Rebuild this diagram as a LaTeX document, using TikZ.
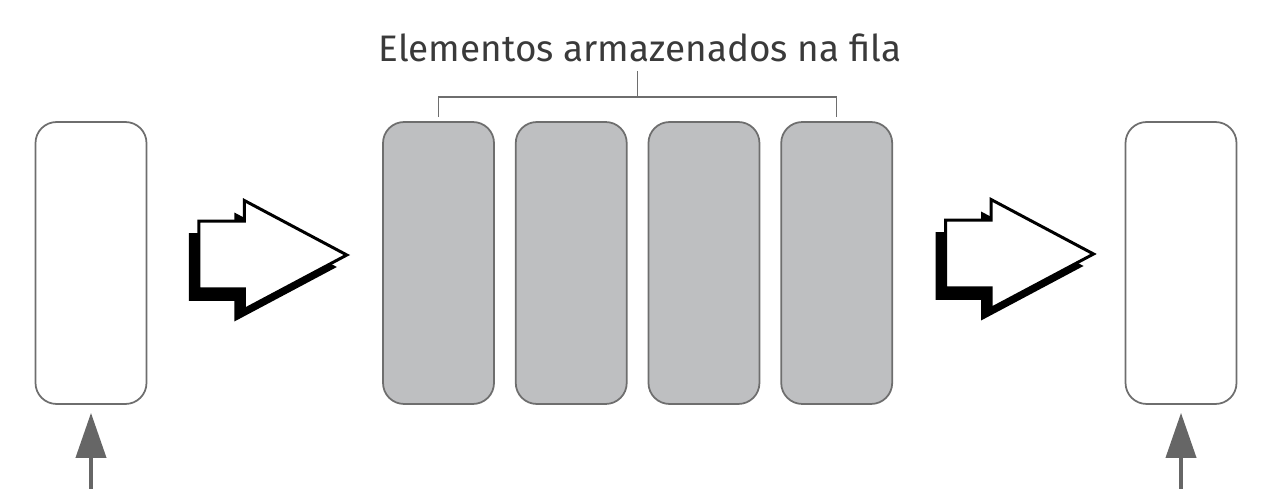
\documentclass[tikz,border=0pt]{standalone}
\usepackage{fontspec}
\setmainfont{Fira Sans}
\usepackage{tikz}
\usetikzlibrary{shapes.arrows, arrows.meta, positioning, calc, shadows}
\definecolor{SlotGray}{HTML}{BEBFC1}
\definecolor{EdgeGray}{HTML}{6E6E6E}
\definecolor{FeedGray}{HTML}{666666}
\definecolor{InkGray}{HTML}{3A3A3A}

\begin{document}
\begin{tikzpicture}[x=0.02cm, y=-0.02cm,
    slot/.style={draw=EdgeGray, line width=1pt, rounded corners=0.42cm,
                 minimum width=2.22cm, minimum height=5.64cm, inner sep=0pt},
    filled/.style={slot, fill=SlotGray},
    blockarrow/.style={single arrow, draw=black, fill=white, line width=1.7pt,
                 minimum height=2.96cm, inner xsep=0pt, inner ysep=0.65cm,
                 single arrow head extend=0.41cm, single arrow tip angle=56,
                 anchor=tail,
                 drop shadow={shadow xshift=-0.2cm, shadow yshift=-0.24cm,
                              fill=black, opacity=1}},
    bracket/.style={draw=EdgeGray, line width=0.8pt},
    feedarrow/.style={draw=FeedGray, line width=2.2pt, shorten >=0.16cm,
                 -{Triangle[width=0.6cm, length=0.9cm]}}]
\useasboundingbox (0,0) rectangle (1270,502);

\node[slot] (entrada) at (91,263) {};
\node[filled] (e1) at (438.5,263) {};
\node[filled, right=0.4cm of e1] (e2) {};
\node[filled, right=0.4cm of e2] (e3) {};
\node[filled, right=0.4cm of e3] (e4) {};
\node[slot] (saida) at (1181,263) {};

\node[blockarrow] (setaA) at ($(entrada.east)+(50,-8)$) {};
\node[blockarrow] (setaB) at ($(e4.east)+(51,-9)$) {};

\node[text=InkGray, anchor=base] (titulo) at (640,62)
    {\fontsize{21}{25}\selectfont Elementos armazenados na fila};
\draw[bracket] ($(e1.north)+(0,-4)$) |- ($(e4.north)+(0,-24)$) -- ($(e4.north)+(0,-4)$);
\draw[bracket] ($(e1.north)!0.5!(e4.north)+(0,-24)$) -- ++(0,-26);

\coordinate (entradaTail) at ($(entrada.south)+(0,84)$);
\coordinate (saidaTail) at ($(saida.south)+(0,84)$);
\draw[feedarrow] (entradaTail) -- (entrada.south);
\draw[feedarrow] (saidaTail) -- (saida.south);
\end{tikzpicture}
\end{document}
